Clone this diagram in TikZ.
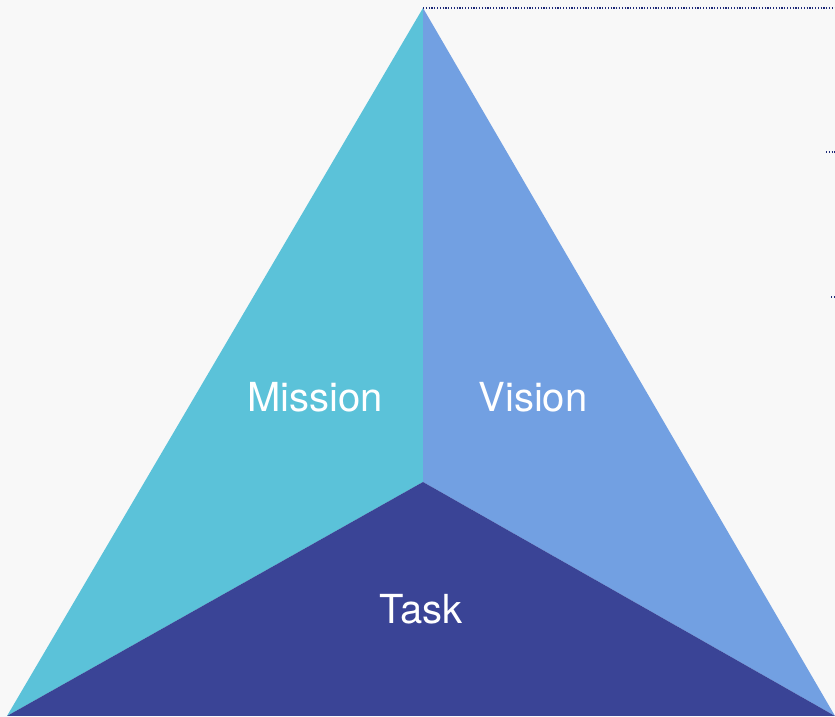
\documentclass[tikz,border=0pt]{standalone}
\usepackage{fontspec}
\setmainfont{TeX Gyre Heros}
\definecolor{bg}{HTML}{F8F8F8}
\definecolor{mission}{HTML}{5BC2D9}
\definecolor{vision}{HTML}{72A0E2}
\definecolor{task}{HTML}{3A4496}
\definecolor{navy}{HTML}{1E2A78}
\begin{document}
\begin{tikzpicture}[x=1pt,y=1pt,
  lbl/.style={text=white,font=\fontsize{40}{44}\selectfont,anchor=base,inner sep=0pt},
  dotline/.style={navy,line width=1.2pt,dash pattern=on 1.2pt off 1.6pt}]
\fill[bg] (0,0) rectangle (835,717);
\useasboundingbox (0,0) rectangle (835,717);
\coordinate (apex) at (423,709);
\coordinate (bl) at (7,1);
\coordinate (br) at (835,1);
\coordinate (ctr) at (423,235);
\fill[mission] (apex) -- (ctr) -- (bl) -- cycle;
\fill[vision] (apex) -- (br) -- (ctr) -- cycle;
\fill[task] (bl) -- (ctr) -- (br) -- cycle;
\coordinate (dend) at (835,709);
\draw[dotline] (apex) -- (dend);
\coordinate (d1a) at (826,565);
\coordinate (d1b) at (835,565);
\draw[dotline] (d1a) -- (d1b);
\coordinate (d2a) at (831,420);
\coordinate (d2b) at (835,420);
\draw[dotline] (d2a) -- (d2b);
\node[lbl] (mission) at (315,305) {Mission};
\node[lbl] (vision) at (533,305) {Vision};
\node[lbl] (task) at (421,93) {Task};
\end{tikzpicture}
\end{document}
